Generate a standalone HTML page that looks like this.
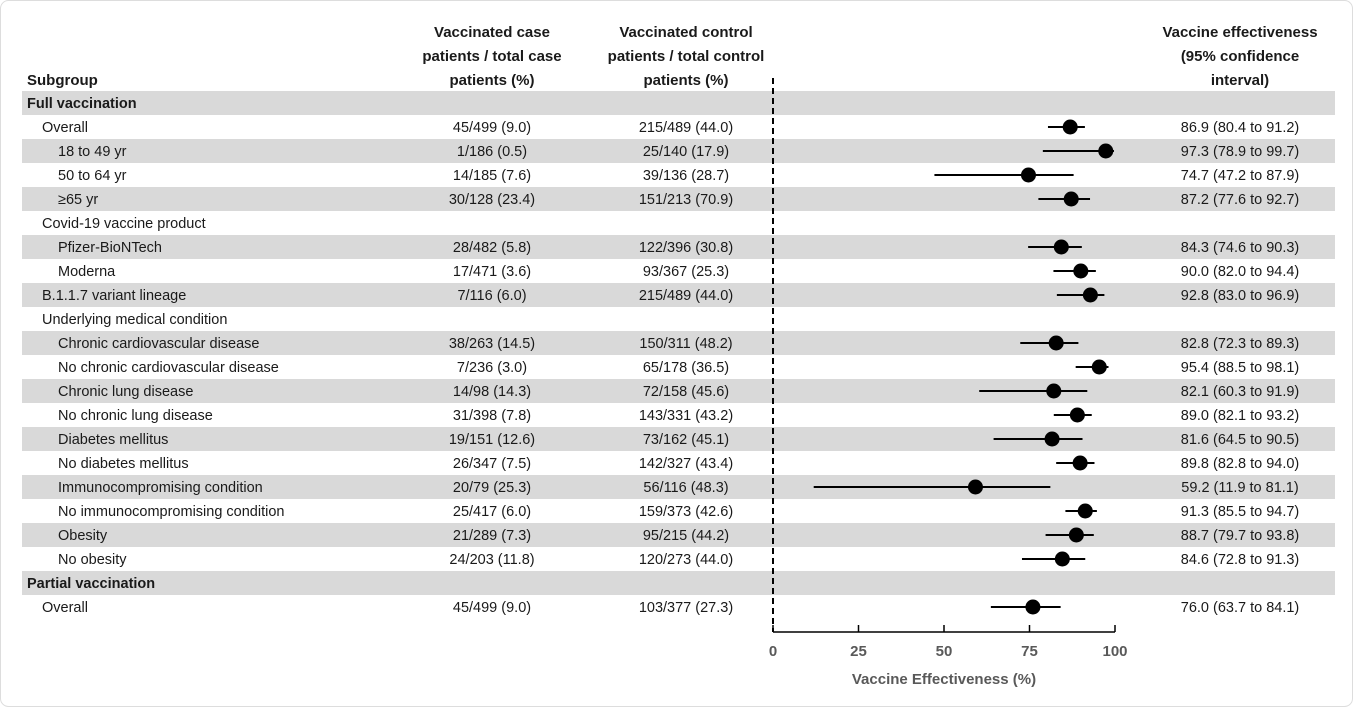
<!DOCTYPE html>
<html><head><meta charset="utf-8"><style>
body{margin:0;background:#fff;}
svg text{font-family:"Liberation Sans",sans-serif;fill:#1a1a1a;}
svg text.ax{fill:#595959;}
</style></head><body>
<svg width="1353" height="707" viewBox="0 0 1353 707" xmlns="http://www.w3.org/2000/svg">
<rect x="0.5" y="0.5" width="1352" height="706" rx="8" fill="#fff" stroke="#ddd"/>
<g id="shade" fill="#d9d9d9"></g>
<g font-size="15" font-weight="bold" text-anchor="middle">
<text x="492" y="37">Vaccinated case</text>
<text x="492" y="61">patients / total case</text>
<text x="492" y="85">patients (%)</text>
<text x="686" y="37">Vaccinated control</text>
<text x="686" y="61">patients / total control</text>
<text x="686" y="85">patients (%)</text>
<text x="1240" y="37">Vaccine effectiveness</text>
<text x="1240" y="61">(95% confidence</text>
<text x="1240" y="85">interval)</text>
<text x="27" y="85" text-anchor="start">Subgroup</text>
</g>
<g id="rows" font-size="14.5"></g>
<line x1="773" y1="78" x2="773" y2="632" stroke="#000" stroke-width="2" stroke-dasharray="6,4"/>
<line x1="773" y1="632" x2="1115" y2="632" stroke="#000" stroke-width="1.5"/>
<g stroke="#000" stroke-width="1.5">
<line x1="773" y1="625" x2="773" y2="632"/><line x1="858.5" y1="625" x2="858.5" y2="632"/><line x1="944" y1="625" x2="944" y2="632"/><line x1="1029.5" y1="625" x2="1029.5" y2="632"/><line x1="1115" y1="625" x2="1115" y2="632"/>
</g>
<g font-size="15" font-weight="bold" text-anchor="middle">
<text class="ax" x="773" y="656">0</text><text class="ax" x="858.5" y="656">25</text><text class="ax" x="944" y="656">50</text><text class="ax" x="1029.5" y="656">75</text><text class="ax" x="1115" y="656">100</text>
<text class="ax" x="944" y="684">Vaccine Effectiveness (%)</text>
</g>
<g id="plot"></g>
</svg>
<script>
var rows=[
["Full vaccination",0,1,"","","",null],
["Overall",1,0,"45/499 (9.0)","215/489 (44.0)","86.9 (80.4 to 91.2)",[86.9,80.4,91.2]],
["18 to 49 yr",2,1,"1/186 (0.5)","25/140 (17.9)","97.3 (78.9 to 99.7)",[97.3,78.9,99.7]],
["50 to 64 yr",2,0,"14/185 (7.6)","39/136 (28.7)","74.7 (47.2 to 87.9)",[74.7,47.2,87.9]],
["\u226565 yr",2,1,"30/128 (23.4)","151/213 (70.9)","87.2 (77.6 to 92.7)",[87.2,77.6,92.7]],
["Covid-19 vaccine product",1,0,"","","",null],
["Pfizer-BioNTech",2,1,"28/482 (5.8)","122/396 (30.8)","84.3 (74.6 to 90.3)",[84.3,74.6,90.3]],
["Moderna",2,0,"17/471 (3.6)","93/367 (25.3)","90.0 (82.0 to 94.4)",[90.0,82.0,94.4]],
["B.1.1.7 variant lineage",1,1,"7/116 (6.0)","215/489 (44.0)","92.8 (83.0 to 96.9)",[92.8,83.0,96.9]],
["Underlying medical condition",1,0,"","","",null],
["Chronic cardiovascular disease",2,1,"38/263 (14.5)","150/311 (48.2)","82.8 (72.3 to 89.3)",[82.8,72.3,89.3]],
["No chronic cardiovascular disease",2,0,"7/236 (3.0)","65/178 (36.5)","95.4 (88.5 to 98.1)",[95.4,88.5,98.1]],
["Chronic lung disease",2,1,"14/98 (14.3)","72/158 (45.6)","82.1 (60.3 to 91.9)",[82.1,60.3,91.9]],
["No chronic lung disease",2,0,"31/398 (7.8)","143/331 (43.2)","89.0 (82.1 to 93.2)",[89.0,82.1,93.2]],
["Diabetes mellitus",2,1,"19/151 (12.6)","73/162 (45.1)","81.6 (64.5 to 90.5)",[81.6,64.5,90.5]],
["No diabetes mellitus",2,0,"26/347 (7.5)","142/327 (43.4)","89.8 (82.8 to 94.0)",[89.8,82.8,94.0]],
["Immunocompromising condition",2,1,"20/79 (25.3)","56/116 (48.3)","59.2 (11.9 to 81.1)",[59.2,11.9,81.1]],
["No immunocompromising condition",2,0,"25/417 (6.0)","159/373 (42.6)","91.3 (85.5 to 94.7)",[91.3,85.5,94.7]],
["Obesity",2,1,"21/289 (7.3)","95/215 (44.2)","88.7 (79.7 to 93.8)",[88.7,79.7,93.8]],
["No obesity",2,0,"24/203 (11.8)","120/273 (44.0)","84.6 (72.8 to 91.3)",[84.6,72.8,91.3]],
["Partial vaccination",0,1,"","","",null],
["Overall",1,0,"45/499 (9.0)","103/377 (27.3)","76.0 (63.7 to 84.1)",[76.0,63.7,84.1]]];
var NS="http://www.w3.org/2000/svg";
function el(p,n,a,t){var e=document.createElementNS(NS,n);for(var k in a)e.setAttribute(k,a[k]);if(t)e.textContent=t;document.getElementById(p).appendChild(e);}
function X(v){return 773+3.42*v;}
rows.forEach(function(r,i){var y0=91+24*i,yc=y0+12,ty=yc+5;
if(r[2])el("shade","rect",{x:22,y:y0,width:1313,height:24});
var a={x:[27,42,58][r[1]],y:ty};if(r[1]==0)a["font-weight"]="bold";
el("rows","text",a,r[0]);
if(r[3]){el("rows","text",{x:492,y:ty,"text-anchor":"middle"},r[3]);
el("rows","text",{x:686,y:ty,"text-anchor":"middle"},r[4]);
el("rows","text",{x:1240,y:ty,"text-anchor":"middle"},r[5]);}
if(r[6]){el("plot","line",{x1:X(r[6][1]),x2:X(r[6][2]),y1:yc,y2:yc,stroke:"#000","stroke-width":2});
el("plot","circle",{cx:X(r[6][0]),cy:yc,r:7.5,fill:"#000"});}
});
</script>
</body></html>
